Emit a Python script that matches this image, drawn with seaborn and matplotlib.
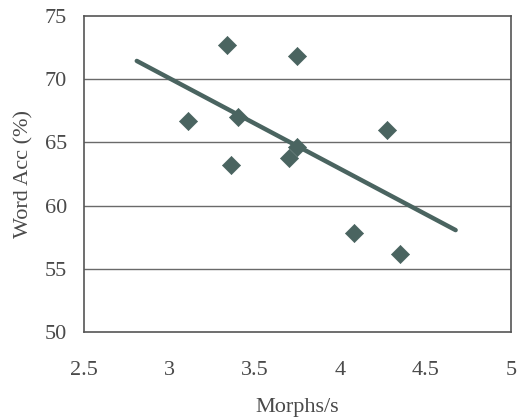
import numpy as np
import pandas as pd
import matplotlib
matplotlib.use("Agg")
import matplotlib.pyplot as plt
import seaborn as sns

morphs = [3.11, 3.34, 3.36, 3.40, 3.745, 3.70, 3.745, 4.274, 4.08, 4.35]
word_acc = [66.7, 72.7, 63.2, 67.0, 71.8, 63.8, 64.6, 66.0, 57.8, 56.2]
trend_range = [2.81, 4.675]
x_ticks = [2.5, 3, 3.5, 4, 4.5, 5]
y_ticks = [50, 55, 60, 65, 70, 75]

sns.set_theme(style="white")
plt.rcParams['font.family'] = ['Liberation Serif', 'DejaVu Serif']

df = pd.DataFrame({"Morphs/s": morphs, "Word Acc (%)": word_acc})

fig = plt.figure(figsize=(5.27, 4.19), dpi=100)
ax = fig.add_axes([0.159, 0.2076, 0.811, 0.7544])

mark_col = "#4a6460"
for yv in y_ticks[1:-1]:
    ax.axhline(yv, color="#6a6a6a", lw=1.0, zorder=1)

coef = np.polyfit(morphs, word_acc, 1)
tx = np.array(trend_range)
trend = pd.DataFrame({"x": tx, "y": np.polyval(coef, tx)})
sns.lineplot(data=trend, x="x", y="y", ax=ax, color=mark_col, lw=3.2, zorder=2)

sns.scatterplot(data=df, x="Morphs/s", y="Word Acc (%)", ax=ax, marker="D",
                s=85, color=mark_col, edgecolor=mark_col, linewidth=0.5, zorder=3)

ax.set_xlim(2.5, 5)
ax.set_ylim(50, 75)
ax.set_xticks(x_ticks)
ax.set_xticklabels(["2.5", "3", "3.5", "4", "4.5", "5"])
ax.set_yticks(y_ticks)
ax.tick_params(axis="x", direction="in", length=4, width=1, color="#555555",
               labelsize=16, labelcolor="#4a4a4a", pad=21)
ax.tick_params(axis="y", length=0, labelsize=16, labelcolor="#4a4a4a", pad=12)
ax.set_xlabel("Morphs/s", fontsize=16, color="#4a4a4a", labelpad=13)
ax.set_ylabel("Word Acc (%)", fontsize=16, color="#4a4a4a", labelpad=8)
for sp in ax.spines.values():
    sp.set_visible(True)
    sp.set_color("#555555")
    sp.set_linewidth(1.2)

fig.savefig("out.png", dpi=100)
